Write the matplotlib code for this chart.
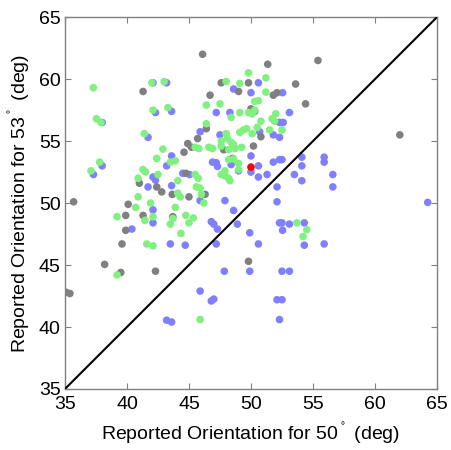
import matplotlib
matplotlib.use("Agg")
import matplotlib.pyplot as plt

plt.rcParams['font.family'] = ['Liberation Sans', 'DejaVu Sans']

# grey points (x = reported for 50 deg, y = reported for 53 deg)
gray_x = [41.3, 46.1, 51.35, 55.4, 53.6, 54.4, 62.0, 47.6, 49.8, 49.0, 46.7, 51.8,
          52.1, 50.0, 50.3, 46.4, 45.7, 50.8, 44.9, 45.2, 44.6, 47.8, 50.2, 48.5,
          41.0, 42.4, 42.8, 44.75, 46.3, 43.65, 45.0, 40.1, 39.9, 41.3, 43.7, 39.9,
          39.6, 38.2, 39.5, 42.3, 35.7, 35.1, 35.4, 49.8]
gray_y = [59.0, 62.0, 61.2, 61.5, 59.6, 58.0, 55.5, 59.7, 59.7, 59.0, 58.7, 58.7,
          58.9, 57.6, 57.4, 56.0, 55.2, 55.35, 54.8, 54.5, 54.1, 54.3, 54.6, 53.6,
          51.6, 51.3, 50.9, 52.4, 50.7, 50.7, 50.5, 49.9, 49.0, 49.0, 48.9, 47.8,
          46.7, 45.05, 44.4, 44.5, 50.1, 42.8, 42.7, 45.3]

blue_x = [38.0, 42.1, 43.2, 42.3, 43.6, 41.7, 47.2, 48.3, 50.6, 48.6, 50.0, 52.55,
          53.1, 52.3, 52.6, 45.9, 47.5, 50.7, 51.8, 52.3, 43.6, 43.2, 46.9, 47.2,
          47.3, 48.4, 42.1, 42.3, 41.7, 43.6, 44.5, 45.05, 45.9, 47.9, 42.1, 42.1,
          40.4, 43.5, 44.7, 37.3, 38.0, 50.0, 50.6, 49.0, 50.0, 50.6, 51.3, 51.8,
          52.3, 52.5, 53.5, 54.1, 52.1, 52.1, 48.6, 46.8, 47.0, 47.3, 48.9, 49.9,
          52.3, 52.5, 53.1, 52.55, 54.3, 47.2, 50.6, 54.3, 55.9, 47.85, 49.9, 52.5,
          53.1, 45.9, 47.0, 46.8, 52.1, 52.5, 52.3, 43.2, 43.6, 54.1, 55.9, 55.9,
          54.1, 56.6, 56.6, 64.25]
blue_y = [56.5, 59.7, 59.7, 57.3, 57.4, 55.3, 57.3, 57.3, 59.7, 59.2, 58.9, 58.9,
          57.3, 56.5, 56.5, 55.75, 55.5, 55.75, 55.5, 55.3, 53.8, 53.0, 53.3, 53.25,
          52.95, 53.1, 52.1, 51.85, 51.3, 51.4, 52.4, 52.3, 50.2, 50.2, 49.45, 48.4,
          47.9, 46.7, 46.6, 52.3, 53.0, 53.8, 53.0, 52.6, 52.5, 52.1, 52.3, 53.3,
          53.5, 53.5, 52.3, 51.8, 51.3, 50.1, 49.4, 48.5, 48.3, 47.9, 48.3, 47.6,
          48.4, 48.4, 48.3, 47.8, 48.4, 46.7, 46.7, 46.6, 46.7, 44.5, 44.5, 44.5,
          44.5, 42.9, 42.25, 42.1, 42.2, 42.2, 40.6, 40.55, 40.4, 53.7, 53.7, 53.3,
          53.0, 52.3, 51.3, 50.05]

green_x = [37.3, 37.55, 37.9, 42.0, 43.0, 42.1, 43.3, 41.4, 48.0, 46.4, 47.5, 49.8,
           51.2, 49.1, 51.2, 50.3, 50.6, 48.4, 49.1, 49.8, 50.1, 52.0, 51.7, 51.9,
           50.8, 46.4, 50.5, 49.65, 49.4, 49.1, 50.1, 51.5, 52.5, 48.0, 48.1, 48.4,
           48.6, 49.25, 48.7, 47.6, 47.6, 45.5, 45.8, 46.6, 46.9, 42.9, 42.4, 43.5,
           43.9, 48.2, 48.6, 49.0, 49.0, 47.9, 47.6, 47.9, 48.2, 48.3, 41.3, 41.5,
           40.9, 42.5, 44.1, 45.5, 45.75, 45.6, 45.9, 46.0, 44.1, 44.3, 40.9, 46.2,
           40.7, 41.9, 43.9, 39.2, 42.1, 41.45, 44.75, 45.35, 45.0, 43.5, 43.7, 44.35,
           41.6, 42.1, 39.2, 37.1, 37.8, 53.7, 54.2, 54.5, 45.9, 50.3, 48.2]
green_y = [59.3, 56.8, 56.5, 59.7, 59.8, 57.5, 57.7, 55.6, 59.8, 57.9, 58.0, 60.5,
           60.1, 59.65, 58.95, 58.2, 58.25, 56.9, 57.3, 57.3, 57.2, 57.2, 56.8, 56.6,
           56.6, 56.4, 56.1, 56.0, 55.9, 55.7, 55.6, 55.9, 55.9, 55.6, 55.2, 54.9,
           54.7, 54.5, 54.4, 55.0, 54.6, 54.5, 54.4, 54.5, 54.4, 54.35, 53.6, 53.3,
           53.4, 53.5, 53.55, 53.2, 52.7, 52.6, 52.3, 52.2, 52.0, 51.8, 52.7, 52.5,
           52.0, 52.3, 51.8, 52.3, 52.0, 51.3, 51.2, 50.7, 50.8, 50.5, 50.5, 50.0,
           49.65, 50.0, 49.65, 48.9, 48.9, 48.6, 49.0, 48.8, 48.4, 48.3, 48.75, 47.55,
           46.7, 46.55, 44.2, 52.6, 53.3, 48.4, 47.3, 47.85, 40.6, 57.5, 54.3]

red_x = [50.0]
red_y = [52.9]

fig = plt.figure(figsize=(4.51, 4.5), dpi=100)
ax = fig.add_axes([0.144, 0.1356, 0.825, 0.8264])

ms = 30
ax.scatter(blue_x, blue_y, s=ms, c='#8080ff', edgecolors='none', zorder=2)
ax.scatter(gray_x, gray_y, s=ms, c='#808080', edgecolors='none', zorder=3)
ax.scatter(green_x, green_y, s=ms, c='#80f080', edgecolors='none', zorder=4)
ax.scatter(red_x, red_y, s=ms, c='#ff0000', edgecolors='none', zorder=5)
ax.plot([35, 65], [35, 65], color='black', lw=1.5, zorder=6)

ax.set_xlim(35, 65)
ax.set_ylim(35, 65)
ax.set_xticks(range(35, 66, 5))
ax.set_yticks(range(35, 66, 5))
ax.tick_params(direction='in', length=4, width=0.8, color='#808080',
               labelsize=14, top=True, right=True)
ax.tick_params(axis='x', pad=5)
ax.tick_params(axis='y', pad=3)
for s in ax.spines.values():
    s.set_color('#808080')
    s.set_linewidth(1.0)

ax.set_xlabel('Reported Orientation for 50$^{^\\circ}$ (deg)', fontsize=14, labelpad=6)
ax.set_ylabel('Reported Orientation for 53$^{^\\circ}$ (deg)', fontsize=14, labelpad=4)

fig.savefig('out.png', dpi=100)
